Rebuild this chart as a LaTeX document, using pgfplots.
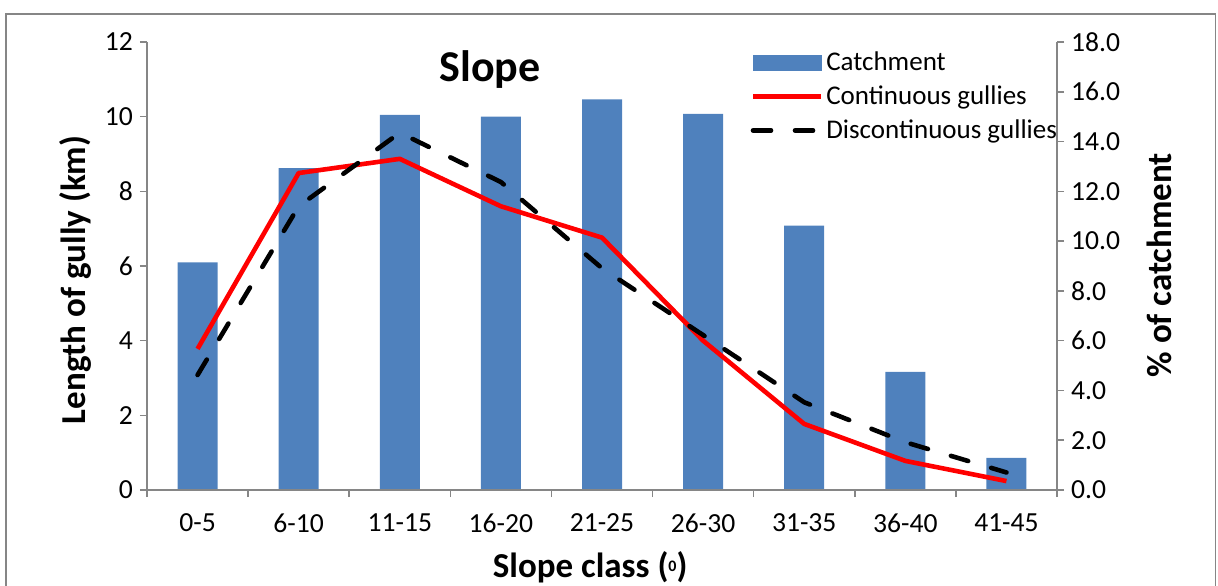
\documentclass[border=0pt]{standalone}
\usepackage{pgfplots}
\pgfplotsset{compat=1.18}
\usepackage{fontspec}
\setmainfont{Carlito}
\definecolor{barblue}{RGB}{79,129,189}
\definecolor{axgray}{RGB}{134,134,134}
\pgfplotsset{
  common/.style={
    at={(0pt,0pt)}, anchor=south west,
    scale only axis, width=455pt, height=224pt,
    xmin=-0.5, xmax=8.5, ymin=0,
    axis line style={-, draw=axgray, line width=0.8pt},
    tick style={draw=axgray, line width=0.8pt},
    major tick length=3.5pt, tick align=outside,
    tick label style={font=\fontsize{13.8}{16}\selectfont},
    /pgf/number format/assume math mode=true,
  }
}
\begin{document}
\begin{tikzpicture}
\path[use as bounding box] (-73.5pt,-47.5pt) rectangle (535.5pt,245pt);
\draw[axgray, line width=0.8pt] (-70.5pt,-60pt) rectangle (534.3pt,238pt);
% bars on right axis
\begin{axis}[common, ybar, bar width=20pt,
  ymax=18, ytick={0,2,...,18},
  axis y line*=right, hide x axis,
  yticklabel style={/pgf/number format/.cd, fixed, fixed zerofill, precision=1},
  ylabel={\% of catchment},
  ylabel style={font=\fontsize{17.5}{20}\selectfont\bfseries, at={(axis description cs:1.113,0.502)}, anchor=center},
]
\addplot[fill=barblue, draw=none, bar shift=0pt] coordinates {
(0,9.15) (1,12.93) (2,15.07) (3,15.0) (4,15.70) (5,15.11) (6,10.62) (7,4.75) (8,1.29)};
\end{axis}
% lines on left axis
\begin{axis}[common,
  ymax=12, ytick={0,2,...,12},
  axis y line*=left, axis x line*=bottom,
  x tick label as interval,
  xtick={-0.5,0.5,...,8.5},
  xticklabels={0-5,6-10,11-15,16-20,21-25,26-30,31-35,36-40,41-45},
  xticklabel style={yshift=-5pt},
  ylabel={Length of gully (km)},
  ylabel style={font=\fontsize{17.5}{20}\selectfont\bfseries, at={(axis description cs:-0.079,0.469)}, anchor=center},
  xlabel={Slope class (\raisebox{3pt}{\fontsize{8}{8}\selectfont 0})},
  xlabel style={font=\fontsize{17.5}{20}\selectfont\bfseries, at={(axis description cs:0.487,-0.172)}, anchor=center},
  legend image code/.code={\draw[#1] (0pt,0pt) -- (34pt,0pt);},
  legend cell align=left,
  legend style={at={(axis description cs:0.663,0.985)}, anchor=north west, draw=none, fill=none,
    font=\fontsize{13.5}{16}\selectfont, row sep=3pt, inner sep=0pt,
    nodes={inner sep=1.5pt}},
]
\addlegendimage{legend image code/.code={\fill[barblue] (0pt,-3.75pt) rectangle (34pt,3.75pt);}}
\addlegendentry{Catchment}
\addplot[red, line width=2.3pt, line join=round] coordinates {
(0,3.78) (1,8.49) (2,8.87) (3,7.60) (4,6.76) (5,4.0) (6,1.77) (7,0.78) (8,0.24)};
\addlegendentry{Continuous gullies}
\addplot[black, line width=2.3pt, line cap=round, line join=round, dash pattern=on 9pt off 12pt] coordinates {
(0,3.08) (1,7.6) (2,9.57) (3,8.25) (4,5.94) (5,4.15) (6,2.35) (7,1.28) (8,0.47)};
\addlegendentry{Discontinuous gullies}
\node[font=\fontsize{22}{26}\selectfont\bfseries] at (axis description cs:0.377,0.9375) {Slope};
\end{axis}
\end{tikzpicture}
\end{document}
